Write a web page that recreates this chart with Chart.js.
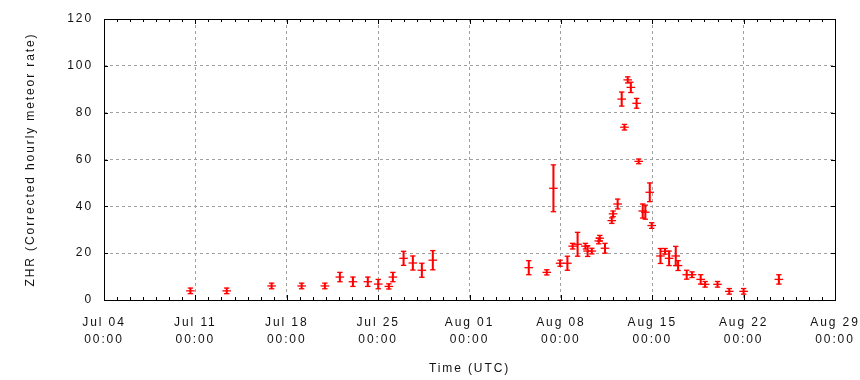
<!DOCTYPE html>
<html><head><meta charset="utf-8">
<script src="https://cdn.jsdelivr.net/npm/chart.js@4/dist/chart.umd.min.js"></script>
<style>html,body{margin:0;padding:0;background:#fff}canvas{display:block}</style>
</head><body>
<canvas id="c" width="860" height="380"></canvas>
<script>
// x values: days since Jul 04 00:00 UTC
const tickLabels = ["Jul 04","Jul 11","Jul 18","Jul 25","Aug 01","Aug 08","Aug 15","Aug 22","Aug 29"];
const tickTime = "00:00";
const days = [6.62, 9.40, 12.84, 15.14, 16.92, 18.07, 19.07, 20.21, 21.01, 21.82, 22.13, 22.95, 23.66, 24.35, 25.19,
  32.54, 33.92, 34.43, 34.94, 35.50, 35.90, 36.28, 36.88, 37.05, 37.37, 37.90, 37.98, 38.38, 38.90, 39.00,
  39.35, 39.66, 39.87, 40.12, 40.36, 40.80, 40.96, 41.27, 41.47, 41.81, 41.96, 42.63, 42.98, 43.29, 43.80,
  43.98, 44.64, 45.05, 45.71, 46.05, 47.00, 47.90, 49.00, 51.70];
const zhr = [3.9, 3.9, 6.0, 6.0, 6.0, 9.8, 7.8, 7.8, 6.8, 5.8, 9.8, 17.8, 15.8, 12.7, 17.0,
  13.8, 11.8, 47.7, 15.7, 15.7, 23.0, 23.8, 23.0, 20.9, 20.9, 25.2, 26.4, 22.1, 33.9, 36.8,
  41.0, 85.8, 73.8, 94.0, 90.8, 84.0, 59.2, 38.0, 37.5, 46.0, 31.8, 18.8, 20.8, 17.8, 18.8,
  14.7, 10.8, 10.8, 8.8, 6.7, 6.7, 3.7, 3.7, 8.8];
const zhrErr = [1.2, 1.2, 1.2, 1.2, 1.2, 2.0, 2.0, 2.0, 2.0, 1.1, 2.0, 3.0, 3.0, 3.0, 4.1,
  3.0, 1.1, 10.0, 1.3, 3.0, 1.2, 5.1, 1.2, 2.3, 1.2, 1.2, 1.2, 2.1, 1.2, 1.2,
  2.1, 3.0, 1.2, 1.3, 2.2, 2.1, 1.0, 3.0, 3.0, 4.0, 1.2, 3.2, 1.2, 3.1, 4.1,
  2.1, 1.9, 1.2, 2.0, 1.2, 1.2, 1.2, 1.2, 2.0];

const RED = '#ff0000';
const LS = '1.9px';
const errBars = days.map((d, i) => ({x: d, y: [zhr[i] - zhrErr[i], zhr[i] + zhrErr[i]]}));
const caps = days.flatMap((d, i) => [{x: d, y: zhr[i] - zhrErr[i]}, {x: d, y: zhr[i] + zhrErr[i]}]);
const centers = days.map((d, i) => ({x: d, y: zhr[i]}));

Chart.defaults.font.family = '"Liberation Sans", Arial, sans-serif';
Chart.defaults.font.size = 12;
Chart.defaults.color = '#111';

const spacing = {
  id: 'spacing',
  beforeLayout(chart) { chart.ctx.letterSpacing = LS; },
  beforeDraw(chart) { chart.ctx.letterSpacing = LS; }
};

const frame = {
  id: 'frame',
  afterDraw(chart) {
    const {ctx, chartArea: a, scales: {x, y}} = chart;
    ctx.save();
    ctx.strokeStyle = '#000';
    ctx.lineWidth = 1;
    ctx.beginPath();
    for (let d = 0; d <= 56; d++) {
      const px = Math.round(x.getPixelForValue(d)) + 0.5;
      const len = d % 7 === 0 ? 5 : 3;
      ctx.moveTo(px, a.bottom); ctx.lineTo(px, a.bottom - len);
      ctx.moveTo(px, a.top); ctx.lineTo(px, a.top + len);
    }
    for (let v = 0; v <= 120; v += 20) {
      const py = Math.round(y.getPixelForValue(v)) + 0.5;
      ctx.moveTo(a.left, py); ctx.lineTo(a.left + 4, py);
      ctx.moveTo(a.right, py); ctx.lineTo(a.right - 4, py);
    }
    ctx.stroke();
    ctx.strokeRect(Math.round(a.left) + 0.5, Math.round(a.top) + 0.5,
      Math.round(a.right - a.left), Math.round(a.bottom - a.top));
    ctx.restore();
  }
};

new Chart(document.getElementById('c'), {
  type: 'scatter',
  data: {
    datasets: [
      {type: 'bar', data: errBars, backgroundColor: RED, borderWidth: 0, barThickness: 1.4, order: 3},
      {data: caps, pointStyle: 'line', pointRadius: 2.7, borderColor: RED, borderWidth: 1.3, order: 2},
      {data: centers, pointStyle: 'line', pointRadius: 4.3, borderColor: RED, borderWidth: 1.3, order: 1}
    ]
  },
  options: {
    responsive: false,
    animation: false,
    events: [],
    layout: {padding: {left: 16, right: 25, top: 19, bottom: 0}},
    plugins: {legend: {display: false}, tooltip: {enabled: false}},
    scales: {
      x: {
        type: 'linear', min: 0, max: 56, offset: false,
        grid: {
          offset: false, drawTicks: false,
          color: c => (c.tick && c.tick.value % 7 === 0 && c.tick.value > 0 && c.tick.value < 56) ? '#a0a0a0' : 'rgba(0,0,0,0)',
          lineWidth: 1
        },
        border: {display: false, dash: [3, 3]},
        ticks: {
          stepSize: 1, autoSkip: false, maxRotation: 0, padding: 14,
          font: {size: 12, lineHeight: 1.4},
          callback: v => v % 7 === 0 ? [tickLabels[v / 7], tickTime] : ''
        },
        title: {display: true, text: 'Time (UTC)', font: {size: 12}, padding: {top: 0, bottom: 4}},
        afterFit: s => { s.height = 80; s.paddingLeft = 0; s.paddingRight = 0; }
      },
      y: {
        min: 0, max: 120,
        grid: {
          drawTicks: false,
          color: c => (c.tick && c.tick.value > 0 && c.tick.value < 120) ? '#a0a0a0' : 'rgba(0,0,0,0)',
          lineWidth: 1
        },
        border: {display: false, dash: [3, 3]},
        ticks: {stepSize: 20, padding: 11, font: {size: 12}},
        title: {display: true, text: 'ZHR (Corrected hourly meteor rate)', font: {size: 12}, padding: {top: 7, bottom: 0}},
        afterFit: s => { s.width = 88; s.paddingTop = 0; s.paddingBottom = 0; }
      }
    }
  },
  plugins: [spacing, frame]
});
</script>
</body></html>
